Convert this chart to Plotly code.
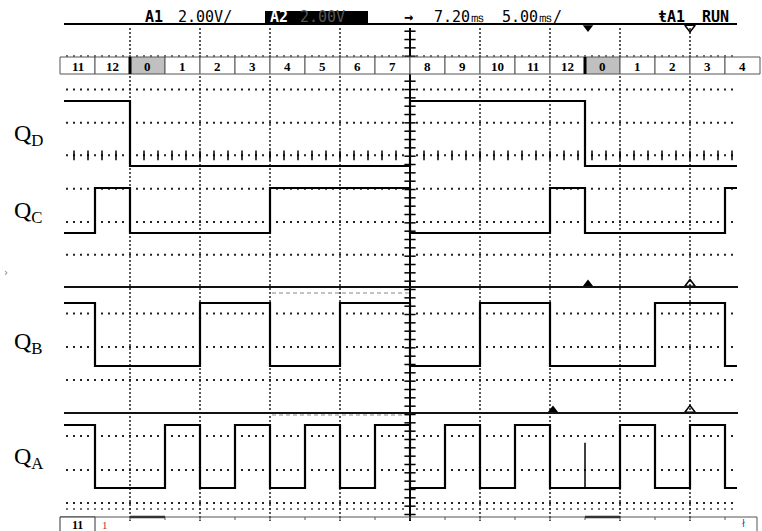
import numpy as np
import plotly.graph_objects as go

# ---------------- data ----------------
count_labels = ["11", "12", "0", "1", "2", "3", "4", "5", "6", "7",
                "8", "9", "10", "11", "12", "0", "1", "2", "3", "4"]
QD = [1, 1, 0, 0, 0, 0, 0, 0, 0, 0, 1, 1, 1, 1, 1, 0, 0, 0, 0, 0]
QC = [0, 1, 0, 0, 0, 0, 1, 1, 1, 1, 0, 0, 0, 0, 1, 0, 0, 0, 0, 1]
QB = [1, 0, 0, 0, 1, 1, 0, 0, 1, 1, 0, 0, 1, 1, 0, 0, 0, 1, 1, 0]
QA = [1, 0, 0, 1, 0, 1, 0, 1, 0, 1, 0, 1, 0, 1, 0, 0, 1, 0, 1, 0]
QA_glitch_slot = 15
QA_glitch_level = 0.72
signal_labels = ["Q<sub>D</sub>", "Q<sub>C</sub>", "Q<sub>B</sub>", "Q<sub>A</sub>"]
header_parts = ["A1", "2.00V/", "A2", "2.00V", "→", "7.20㎳", "5.00㎳/", "ŧA1", "RUN"]

# ---------------- layout helpers (pixel -> slot units) ----------------
W, H = 762, 531
X0, SLOT = 60.0, 35.0


def sx(px):
    return (px - X0) / SLOT


trace_start, trace_end = sx(64), sx(737)
# (low_px, high_px) per signal
levels = [(166, 101), (233, 188), (366, 303), (488, 425)]
label_y = [135, 212, 343, 458]

fig = go.Figure()
shapes = []
annotations = []

DOT_H = "2px,5px"
DOT_V = "2px,2px"
GRID_COL = "#222"

# horizontal dotted graticule lines
for yy in [89.5, 122.7, 155.3, 188.7, 222, 254.7, 313.5, 347, 380, 436, 470, 503]:
    shapes.append(dict(type="line", x0=sx(66), x1=sx(737), y0=yy, y1=yy,
                       line=dict(color=GRID_COL, width=2, dash=DOT_H), layer="below"))
# dotted line above count row and above bottom row
for yy in [56, 509]:
    shapes.append(dict(type="line", x0=sx(66), x1=sx(737), y0=yy, y1=yy,
                       line=dict(color="#444", width=1.5, dash=DOT_H), layer="below"))

# vertical dotted graticule lines
for s in [2, 4, 6, 8, 12, 14, 16, 18]:
    shapes.append(dict(type="line", x0=s, x1=s, y0=28, y1=521,
                       line=dict(color=GRID_COL, width=1.5, dash=DOT_V), layer="below"))
# center vertical axis
shapes.append(dict(type="line", x0=10, x1=10, y0=28, y1=521,
                   line=dict(color="black", width=2), layer="below"))

# faint artifact dashes in lower panels
for yy in [293, 415]:
    shapes.append(dict(type="line", x0=sx(272), x1=sx(410), y0=yy, y1=yy,
                       line=dict(color="#888", width=1.2, dash="4px,3px"), layer="below"))

# header line & panel separators
shapes.append(dict(type="line", x0=sx(64), x1=sx(737), y0=24, y1=24,
                   line=dict(color="black", width=2)))
for yy in [287, 413]:
    shapes.append(dict(type="line", x0=sx(64), x1=sx(738), y0=yy, y1=yy,
                       line=dict(color="#111", width=2)))

# count row boxes
for i, lab in enumerate(count_labels):
    fill = "#c0c0c0" if lab == "0" else "white"
    shapes.append(dict(type="rect", x0=i, x1=i + 1, y0=57, y1=74,
                       line=dict(color="#555", width=1), fillcolor=fill))
    if lab == "0":
        shapes.append(dict(type="line", x0=i, x1=i, y0=57, y1=74,
                           line=dict(color="black", width=3)))
    annotations.append(dict(x=i + 0.5, y=66, text=f"<b>{lab}</b>", showarrow=False,
                            font=dict(family="Liberation Serif", size=13, color="black"),
                            xanchor="center", yanchor="middle"))

# bottom partial count row
shapes.append(dict(type="line", x0=sx(60), x1=sx(757), y0=517, y1=517,
                   line=dict(color="#555", width=1)))
shapes.append(dict(type="line", x0=sx(757), x1=sx(757), y0=517, y1=531,
                   line=dict(color="#555", width=1)))
shapes.append(dict(type="rect", x0=0, x1=1, y0=517, y1=535,
                   line=dict(color="#333", width=1), fillcolor="white"))
for i in range(2, 20):
    shapes.append(dict(type="line", x0=i, x1=i, y0=517, y1=520,
                       line=dict(color="#555", width=1)))
for i in [2, 15]:
    shapes.append(dict(type="line", x0=i, x1=i + 1, y0=517, y1=517,
                       line=dict(color="#333", width=2.5)))
annotations.append(dict(x=0.5, y=524.5, text="<b>11</b>", showarrow=False,
                        font=dict(family="Liberation Serif", size=12, color="black"),
                        xanchor="center", yanchor="middle"))
annotations.append(dict(x=sx(105), y=524.5, text="1", showarrow=False,
                        font=dict(family="Liberation Serif", size=11, color="#c0302a"),
                        xanchor="center", yanchor="middle"))
annotations.append(dict(x=sx(743), y=523.5, text="ł", showarrow=False,
                        font=dict(family="DejaVu Sans", size=10, color="#3050c0"),
                        xanchor="center", yanchor="middle"))
annotations.append(dict(x=sx(6), y=272, text="›", showarrow=False,
                        font=dict(family="DejaVu Sans", size=10, color="#777"),
                        xanchor="center", yanchor="middle"))

# header texts
mono = "DejaVu Sans Mono"
hdr = [
    (143, header_parts[0], True, "black"),
    (176, header_parts[1], False, "black"),
    (402, header_parts[4], True, "black"),
    (432, header_parts[5], False, "black"),
    (500, header_parts[6], False, "black"),
    (656, header_parts[7], True, "black"),
    (700, header_parts[8], True, "black"),
]
shapes.append(dict(type="rect", x0=sx(265), x1=sx(368), y0=11, y1=24,
                   line=dict(width=0), fillcolor="black"))
for px, t, bold, col in hdr:
    annotations.append(dict(x=sx(px), y=17, text=f"<b>{t}</b>" if bold else t,
                            showarrow=False, xanchor="left", yanchor="middle",
                            font=dict(family=mono, size=15, color=col)))
annotations.append(dict(x=sx(268), y=17, text=f"<b>{header_parts[2]}</b>", showarrow=False,
                        xanchor="left", yanchor="middle",
                        font=dict(family=mono, size=15, color="white")))
annotations.append(dict(x=sx(298), y=17, text=header_parts[3], showarrow=False,
                        xanchor="left", yanchor="middle",
                        font=dict(family=mono, size=15, color="#555")))

# signal labels
for lab, yy in zip(signal_labels, label_y):
    annotations.append(dict(x=sx(12), y=yy, text=lab, showarrow=False,
                            xanchor="left", yanchor="middle",
                            font=dict(family="Liberation Serif", size=24, color="black")))

# ---------------- traces ----------------
# center-axis ticks
tick_y = np.arange(31.2, 520, 33.33 / 4)
fig.add_trace(go.Scatter(x=[10] * len(tick_y), y=tick_y, mode="markers",
                         marker=dict(symbol="line-ew", size=8,
                                     line=dict(color="black", width=1.5)),
                         hoverinfo="skip", showlegend=False))
# center horizontal-axis ticks (top panel)
tick_x = np.concatenate([np.arange(10, sx(66), -0.4), np.arange(10.4, sx(737), 0.4)])
fig.add_trace(go.Scatter(x=tick_x, y=[155.3] * len(tick_x), mode="markers",
                         marker=dict(symbol="line-ns", size=7,
                                     line=dict(color="black", width=1.5)),
                         hoverinfo="skip", showlegend=False))

# waveforms
for bits, (lo, hi) in zip([QD, QC, QB, QA], levels):
    xs = [trace_start] + list(range(1, len(bits))) + [trace_end]
    ys = [lo + (hi - lo) * b for b in bits] + [lo + (hi - lo) * bits[-1]]
    fig.add_trace(go.Scatter(x=xs, y=ys, mode="lines", line_shape="hv",
                             line=dict(color="black", width=2.2),
                             hoverinfo="skip", showlegend=False))
lo, hi = levels[3]
fig.add_trace(go.Scatter(x=[QA_glitch_slot, QA_glitch_slot],
                         y=[lo, lo + (hi - lo) * QA_glitch_level], mode="lines",
                         line=dict(color="black", width=1.5),
                         hoverinfo="skip", showlegend=False))

# trigger / cursor markers
fig.add_trace(go.Scatter(x=[sx(588), sx(588), sx(553)], y=[27.5, 284, 410],
                         mode="markers",
                         marker=dict(symbol=["triangle-down", "triangle-up", "triangle-up"],
                                     size=9, color="black"),
                         hoverinfo="skip", showlegend=False))
fig.add_trace(go.Scatter(x=[sx(690), sx(690), sx(690)], y=[27.5, 284, 410],
                         mode="markers",
                         marker=dict(symbol=["triangle-down-open", "triangle-up-open",
                                             "triangle-up-open"],
                                     size=9, color="black", line=dict(width=1.5)),
                         hoverinfo="skip", showlegend=False))

fig.update_layout(
    width=W, height=H, margin=dict(l=0, r=0, t=0, b=0),
    paper_bgcolor="white", plot_bgcolor="white",
    xaxis=dict(range=[sx(0), sx(W)], visible=False, fixedrange=True),
    yaxis=dict(range=[H, 0], visible=False, fixedrange=True),
    shapes=shapes, annotations=annotations, showlegend=False,
)
fig.write_html(
    "out.html",
    config={"displayModeBar": False},
    post_script="document.body.style.margin='0';document.body.style.overflow='hidden';",
)
